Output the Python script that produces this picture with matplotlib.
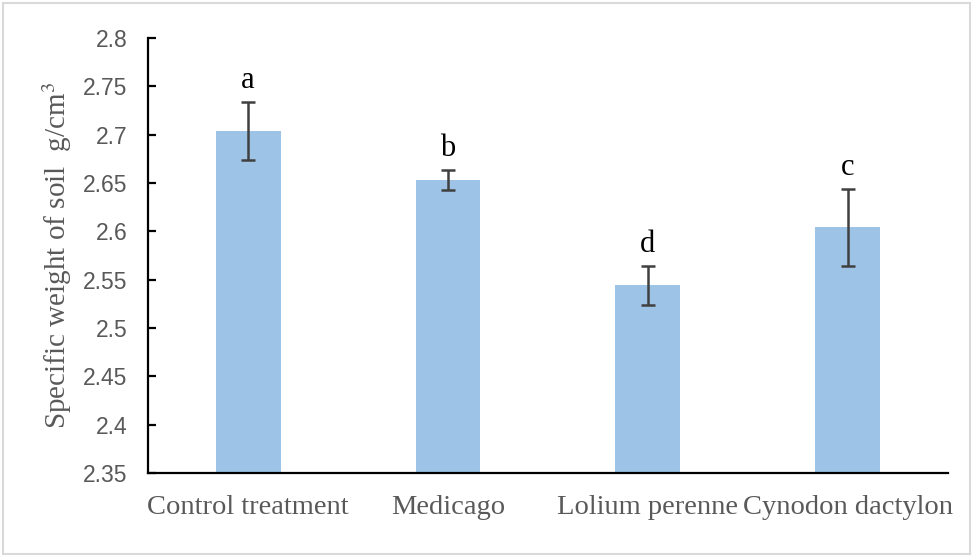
import numpy as np
import matplotlib
matplotlib.use('Agg')
import matplotlib.pyplot as plt
from matplotlib.patches import Rectangle

plt.rcParams['font.family'] = 'Liberation Serif'
plt.rcParams['mathtext.fontset'] = 'stix'

# data
treatments = ['Control treatment', 'Medicago', 'Lolium perenne', 'Cynodon dactylon']
weights = [2.704, 2.653, 2.544, 2.604]
errors = [0.030, 0.010, 0.020, 0.040]
groups = ['a', 'b', 'd', 'c']
yticks = [2.35, 2.4, 2.45, 2.5, 2.55, 2.6, 2.65, 2.7, 2.75, 2.8]


def main():
    fig = plt.figure(figsize=(9.75, 5.57), dpi=100)
    ax = fig.add_axes([0.1518, 0.1508, 0.8205, 0.781])

    # light gray frame round the whole chart
    fig.patches.append(Rectangle((0.003, 0.005), 0.992, 0.989, transform=fig.transFigure,
                                 fill=False, edgecolor='#d9d9d9', linewidth=1.5))

    x = np.arange(len(treatments))
    ax.bar(x, weights, width=0.325, color='#9dc3e6', zorder=2)
    ax.errorbar(x, weights, yerr=errors, fmt='none', ecolor='#404040',
                elinewidth=1.8, capsize=4.7, capthick=1.8, zorder=3)

    for xi, w, e, g in zip(x, weights, errors, groups):
        ax.annotate(g, (xi, w + e), xytext=(0, 5), textcoords='offset points',
                    ha='center', va='bottom', fontsize=22, color='black')

    ax.set_xlim(-0.5, 3.5)
    ax.set_ylim(2.35, 2.8)
    ax.set_yticks(yticks)
    ax.set_yticklabels([f'{v:g}' for v in yticks], family='Liberation Sans',
                       fontsize=16.5, color='#595959')
    ax.set_xticks(x)
    ax.set_xticklabels(treatments, fontsize=20.5, color='#595959')

    ax.tick_params(axis='y', direction='in', length=6, width=1.6, pad=15)
    ax.tick_params(axis='x', length=0, pad=16)

    ax.set_ylabel(r'Specific weight of soil  g/cm$^3$', fontsize=21,
                  color='#595959', labelpad=6)

    for a, w in zip(['top', 'bottom', 'left', 'right'], [0, 1.6, 1.6, 0]):
        ax.spines[a].set_linewidth(w)

    plt.savefig('out.png', dpi=100)


if __name__ == '__main__':
    main()
